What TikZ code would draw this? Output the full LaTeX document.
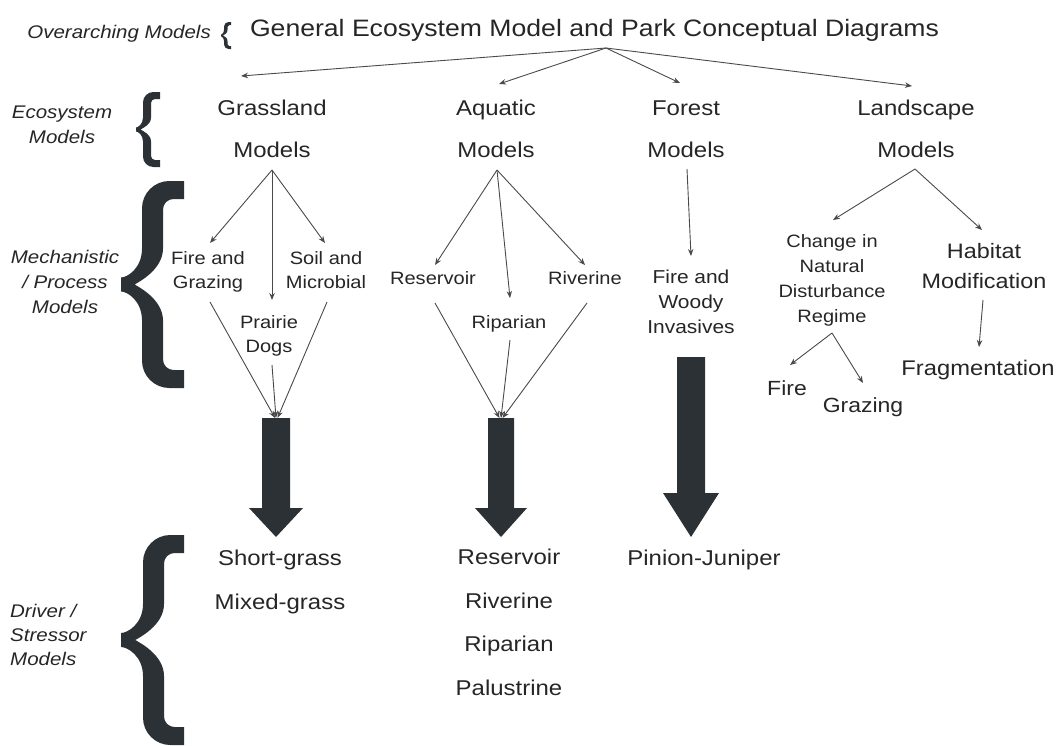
\documentclass[tikz,border=0pt]{standalone}
\usepackage{fontspec}
\setmainfont[FakeStretch=1.12]{Liberation Sans}
\usetikzlibrary{arrows.meta}

\definecolor{ink}{HTML}{262626}
\definecolor{wire}{HTML}{4A4A4A}
\definecolor{heavy}{HTML}{2C3136}

\newcommand{\setfs}[2]{\fontsize{#1}{#2}\selectfont}

% Thick curly brace: tip x, stroke x, stroke width, arm end x, top y, bottom y, arm thickness, bend length, tip half height
\newcommand{\curlybrace}[9]{%
  \pgfmathsetmacro\bM{(#5+#6)/2}%
  \pgfmathsetmacro\bC{1.3*#3}%
  \pgfmathsetmacro\bCi{0.5*#3}%
  \pgfmathsetmacro\bI{#1+0.65*(#2-#1)}%
  \pgfmathsetmacro\bSW{#2+#3}%
  \fill[heavy] (#4,#5) -- ({#2+\bC},#5)
    .. controls ({#2+0.45*\bC},#5) and (#2,{#5+0.45*\bC}) .. (#2,{#5+\bC})
    -- (#2,{\bM-#8})
    .. controls (#2,{\bM-0.45*#8}) and ({#1+0.3*(#2-#1)},{\bM-#9}) .. (#1,{\bM-#9})
    -- (#1,{\bM+#9})
    .. controls ({#1+0.3*(#2-#1)},{\bM+#9}) and (#2,{\bM+0.45*#8}) .. (#2,{\bM+#8})
    -- (#2,{#6-\bC})
    .. controls (#2,{#6-0.45*\bC}) and ({#2+0.45*\bC},#6) .. ({#2+\bC},#6)
    -- (#4,#6) -- (#4,{#6-#7}) -- ({\bSW+\bCi},{#6-#7})
    .. controls ({\bSW+0.45*\bCi},{#6-#7}) and (\bSW,{#6-#7-0.45*\bCi}) .. (\bSW,{#6-#7-\bCi})
    -- (\bSW,{\bM+#8})
    .. controls (\bSW,{\bM+0.4*#8}) and ({\bI+3},{\bM+2}) .. (\bI,\bM)
    .. controls ({\bI+3},{\bM-2}) and (\bSW,{\bM-0.4*#8}) .. (\bSW,{\bM-#8})
    -- (\bSW,{#5+#7+\bCi})
    .. controls (\bSW,{#5+#7+0.45*\bCi}) and ({\bSW+0.45*\bCi},{#5+#7}) .. ({\bSW+\bCi},{#5+#7})
    -- (#4,{#5+#7}) -- cycle;%
}

% Block arrow: top point, tip point, half shaft width, half head width, head length
\newcommand{\fatarrow}[5]{%
  \fill[heavy] ([xshift=-#3pt]#1) -- ([xshift=#3pt]#1)
    -- ([xshift=#3pt,yshift=#5pt]#2) -- ([xshift=#4pt,yshift=#5pt]#2)
    -- (#2)
    -- ([xshift=-#4pt,yshift=#5pt]#2) -- ([xshift=-#3pt,yshift=#5pt]#2) -- cycle;%
}

\begin{document}
\begin{tikzpicture}[x=1pt,y=-1pt,
  tier/.style={text=ink, inner sep=0pt, anchor=base, align=center},
  lbl/.style={tier, font=\itshape\setfs{18.3}{25}},
  link/.style={draw=wire, line width=0.9pt, -{Stealth[length=7pt,width=5.5pt]}}]

\useasboundingbox[fill=white] (0,0) rectangle (1060,745);

% ---------- level labels and braces (anchors sit on the last baseline) ----------
\node[lbl, anchor=base east] (olbl) at (211,38) {Overarching Models};
\node[lbl] (elbl) at (62,143) {Ecosystem\\Models};
\node[lbl] (mlbl) at (65,313) {Mechanistic\\/ Process\\Models};
\node[lbl, anchor=base west, align=left, font=\itshape\setfs{18.3}{24}] (dlbl) at (10,665) {Driver /\\Stressor\\Models};

\curlybrace{221}{224}{3.5}{231}{22}{49}{3}{6}{0.8}
\curlybrace{136}{143}{8}{160}{92}{167}{7}{12}{2}
\curlybrace{121}{142}{21}{184}{181}{388}{18}{36}{7}
\curlybrace{121}{143}{21}{184}{535}{745}{18}{36}{7}

% ---------- overarching model ----------
\node[tier, font=\setfs{23.75}{28}] (title) at (594.5,36) {General Ecosystem Model and Park Conceptual Diagrams};

% ---------- ecosystem models ----------
\begin{scope}[every node/.append style={font=\setfs{21.4}{42}}]
\node[tier] (grass) at (272,157) {Grassland\\Models};
\node[tier] (aqua)  at (496,157) {Aquatic\\Models};
\node[tier] (forest) at (686,157) {Forest\\Models};
\node[tier] (land)  at (916,157) {Landscape\\Models};
\end{scope}

% ---------- mechanistic / process models ----------
\begin{scope}[every node/.append style={font=\setfs{17.9}{24}}]
\node[tier] (fg)   at (208,288) {Fire and\\Grazing};
\node[tier] (soil) at (326,288) {Soil and\\Microbial};
\node[tier] (pd)   at (269,352) {Prairie\\Dogs};
\node[tier] (mres) at (433,284) {Reservoir};
\node[tier] (mriv) at (585,284) {Riverine};
\node[tier] (mrip) at (509,328) {Riparian};
\end{scope}
\node[tier, font=\setfs{17.9}{25}] (cnd) at (832,322) {Change in\\Natural\\Disturbance\\Regime};
\node[tier, font=\setfs{18.7}{25}] (fwi) at (691,333) {Fire and\\Woody\\Invasives};
\node[tier, font=\setfs{20.9}{30}] (hab) at (984,288) {Habitat\\Modification};
\node[tier, font=\setfs{21.2}{26}] (frag) at (978,375) {Fragmentation};
\node[tier, font=\setfs{20.5}{26}] (lfire) at (787,395) {Fire};
\node[tier, font=\setfs{20.5}{26}] (lgraz) at (863,412) {Grazing};

% ---------- driver / stressor models ----------
\begin{scope}[every node/.append style={font=\setfs{21.4}{43.5}}]
\node[tier] (sg)  at (280,609) {Short-grass\\Mixed-grass};
\node[tier] (aqb) at (509,695) {Reservoir\\Riverine\\Riparian\\Palustrine};
\node[tier] (pj)  at (704,565) {Pinion-Juniper};
\end{scope}

% ---------- connector end points ----------
\coordinate (hub) at (606,48);
\coordinate (grass-in) at (241,76);
\coordinate (aqua-in) at (499,84);
\coordinate (forest-in) at (680,83);
\coordinate (land-in) at (912,86);

\coordinate (grass-out) at (272,170);
\coordinate (fg-in) at (210,243);
\coordinate (pd-in) at (272,300);
\coordinate (soil-in) at (325,243);
\coordinate (fg-out) at (210,302);
\coordinate (soil-out) at (327,302);
\coordinate (pd-out) at (272,365);

\coordinate (aqua-out) at (497,170);
\coordinate (mres-in) at (435,265);
\coordinate (mrip-in) at (510,298);
\coordinate (mriv-in) at (585,265);
\coordinate (mres-out) at (435,303);
\coordinate (mrip-out) at (510,340);
\coordinate (mriv-out) at (587,303);

\coordinate (forest-out) at (687,169);
\coordinate (fwi-in) at (691,256);

\coordinate (land-out) at (915,169);
\coordinate (cnd-in) at (833,220);
\coordinate (hab-in) at (982,230);
\coordinate (cnd-out) at (832,333);
\coordinate (lfire-in) at (790,365);
\coordinate (lgraz-in) at (863,383);
\coordinate (hab-out) at (983,300);
\coordinate (frag-in) at (979,347);

% block arrow ends
\coordinate (gbar) at (276,418);
\coordinate (gtip) at (276,537);
\coordinate (abar) at (501,418);
\coordinate (atip) at (501,537);
\coordinate (fbar) at (691,357);
\coordinate (ftip) at (691,537);

% ---------- thin connectors ----------
\draw[link] (hub) -- (grass-in);
\draw[link] (hub) -- (aqua-in);
\draw[link] (hub) -- (forest-in);
\draw[link] (hub) -- (land-in);

\draw[link] (grass-out) -- (fg-in);
\draw[link] (grass-out) -- (pd-in);
\draw[link] (grass-out) -- (soil-in);
\draw[link] (fg-out) -- ([xshift=-1pt]gbar);
\draw[link] (soil-out) -- ([xshift=1.5pt]gbar);
\draw[link] (pd-out) -- (gbar);

\draw[link] (aqua-out) -- (mres-in);
\draw[link] (aqua-out) -- (mrip-in);
\draw[link] (aqua-out) -- (mriv-in);
\draw[link] (mres-out) -- ([xshift=-1.5pt]abar);
\draw[link] (mrip-out) -- (abar);
\draw[link] (mriv-out) -- ([xshift=1.5pt]abar);

\draw[link] (forest-out) -- (fwi-in);

\draw[link] (land-out) -- (cnd-in);
\draw[link] (land-out) -- (hab-in);
\draw[link] (cnd-out) -- (lfire-in);
\draw[link] (cnd-out) -- (lgraz-in);
\draw[link] (hab-out) -- (frag-in);

% ---------- block arrows ----------
\fatarrow{gbar}{gtip}{14}{27}{29}
\fatarrow{abar}{atip}{13}{26}{29}
\fatarrow{fbar}{ftip}{14}{28}{44}

\end{tikzpicture}
\end{document}
